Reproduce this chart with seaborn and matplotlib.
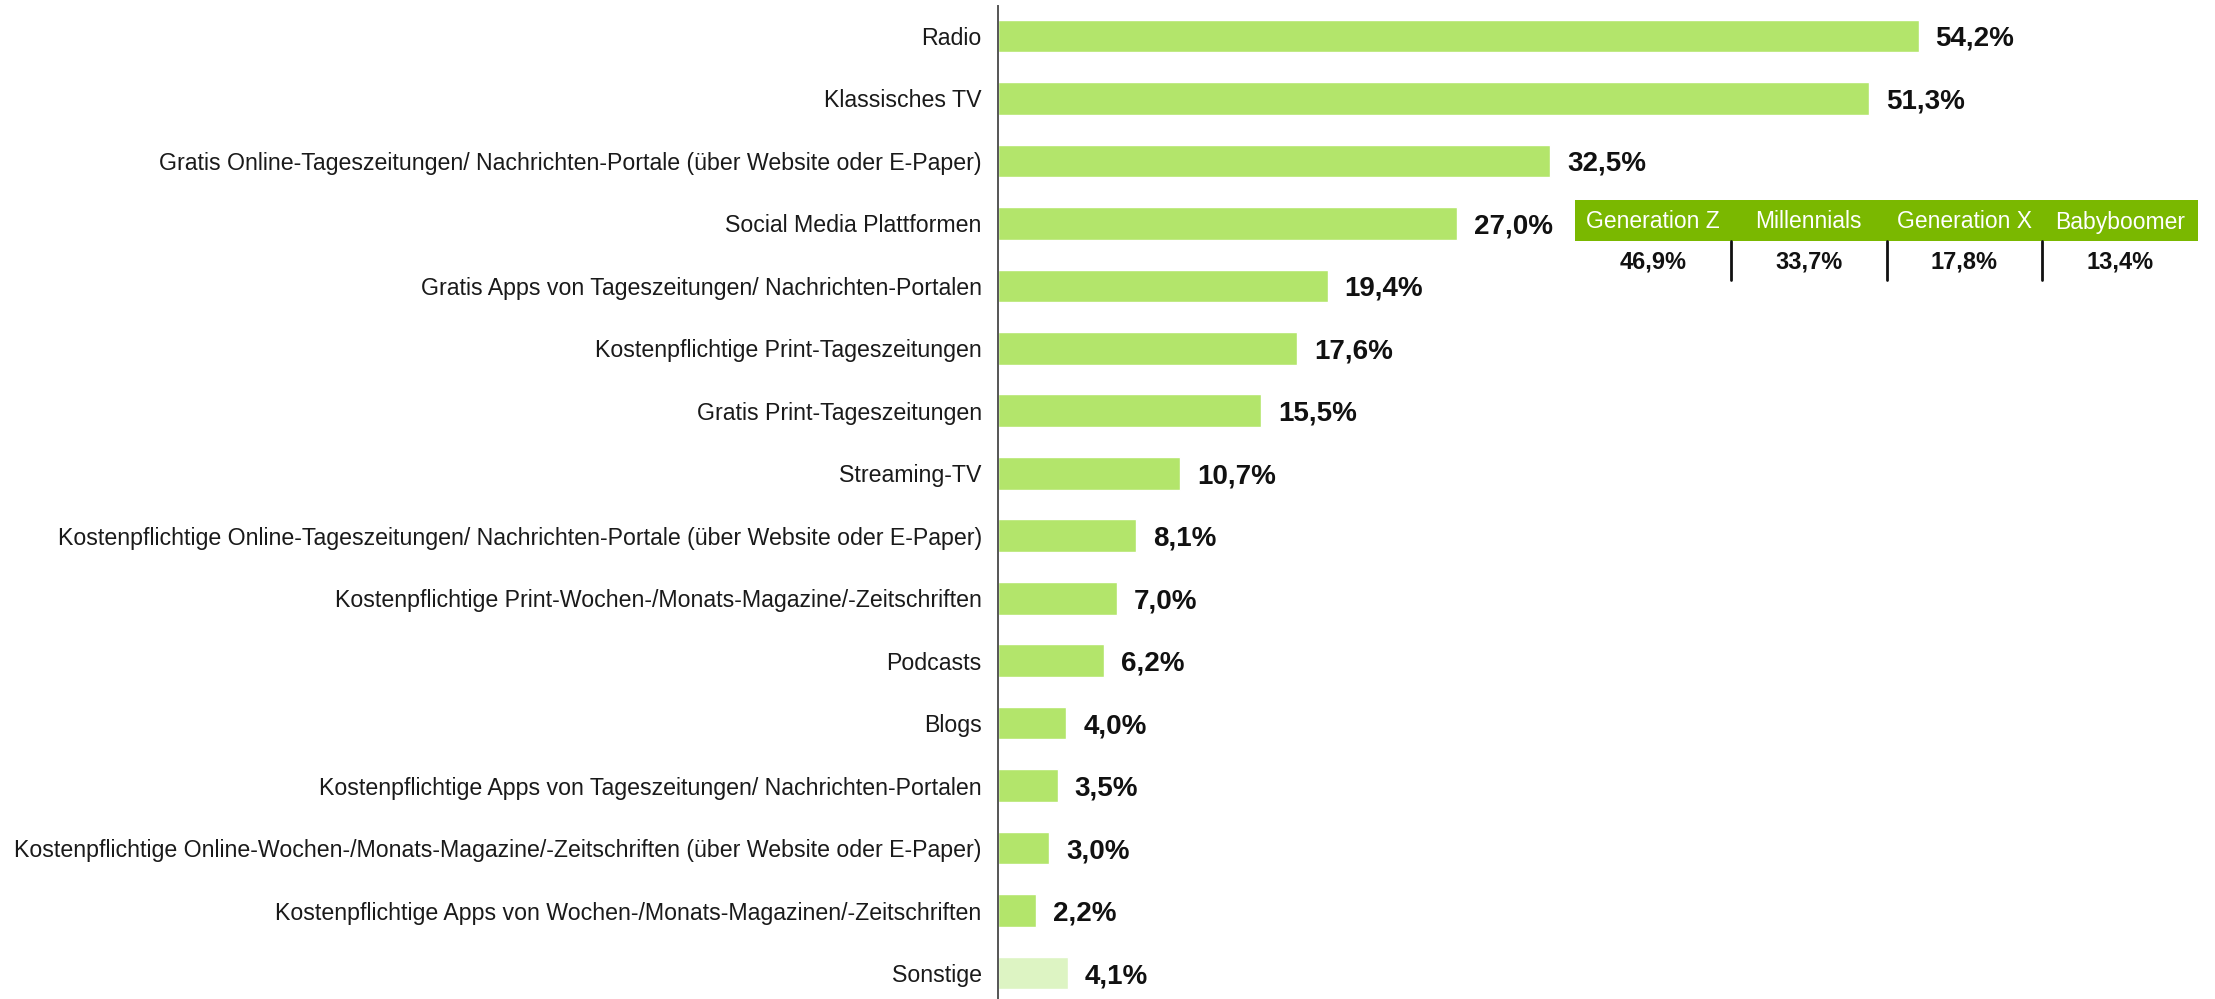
import matplotlib
matplotlib.use("Agg")
import matplotlib.pyplot as plt
import seaborn as sns
import pandas as pd
from matplotlib.patches import Rectangle
from matplotlib.lines import Line2D

categories = [
    "Radio",
    "Klassisches TV",
    "Gratis Online-Tageszeitungen/ Nachrichten-Portale (über Website oder E-Paper)",
    "Social Media Plattformen",
    "Gratis Apps von Tageszeitungen/ Nachrichten-Portalen",
    "Kostenpflichtige Print-Tageszeitungen",
    "Gratis Print-Tageszeitungen",
    "Streaming-TV",
    "Kostenpflichtige Online-Tageszeitungen/ Nachrichten-Portale (über Website oder E-Paper)",
    "Kostenpflichtige Print-Wochen-/Monats-Magazine/-Zeitschriften",
    "Podcasts",
    "Blogs",
    "Kostenpflichtige Apps von Tageszeitungen/ Nachrichten-Portalen",
    "Kostenpflichtige Online-Wochen-/Monats-Magazine/-Zeitschriften (über Website oder E-Paper)",
    "Kostenpflichtige Apps von Wochen-/Monats-Magazinen/-Zeitschriften",
    "Sonstige",
]
values = [54.2, 51.3, 32.5, 27.0, 19.4, 17.6, 15.5, 10.7, 8.1, 7.0, 6.2, 4.0, 3.5, 3.0, 2.2, 4.1]

gen_labels = ["Generation Z", "Millennials", "Generation X", "Babyboomer"]
gen_values = [46.9, 33.7, 17.8, 13.4]

BAR = "#B3E56B"
BAR_LIGHT = "#DDF4C3"
HEADER = "#7AB800"
colors = [BAR] * (len(categories) - 1) + [BAR_LIGHT]

sns.set_theme(style="white")
plt.rcParams["font.family"] = ["Liberation Sans", "DejaVu Sans"]

W, H = 2215, 999
fig = plt.figure(figsize=(W / 100, H / 100), dpi=100)
ax_left = 998.3 / W
ax_top = 6 / H
ax = fig.add_axes([ax_left, 0, 1 - ax_left, 1 - ax_top])

df = pd.DataFrame({"cat": categories, "val": values})
sns.barplot(data=df, y="cat", x="val", hue="cat", palette=colors, legend=False,
            orient="h", width=0.523, ax=ax, saturation=1)

px_per_unit = 16.98
ax.set_xlim(0, (W - 998.3) / px_per_unit)
row = 62.47
ax.set_ylim(15 + (999 - 973) / row, -(36 - 6) / row)

for sp in ["top", "right", "bottom"]:
    ax.spines[sp].set_visible(False)
ax.spines["left"].set_color("#555555")
ax.spines["left"].set_linewidth(1.4)
ax.set_xticks([])
ax.set_xlabel("")
ax.set_ylabel("")
ax.tick_params(axis="y", length=0, pad=12, labelsize=16.7, labelcolor="#1a1a1a")

for i, v in enumerate(values):
    ax.annotate(f"{v:.1f}%".replace(".", ","), xy=(v, i), xytext=(17, -3),
                textcoords="offset pixels",
                va="center", ha="left", fontsize=20, fontweight="bold", color="#111111")

# Inset table
def fx(x):
    return x / W

def fy(y):
    return 1 - y / H

x0, x1 = 1575, 2198
y0, y1 = 200, 241
colw = (x1 - x0) / 4
fig.patches.append(Rectangle((fx(x0), fy(y1)), fx(x1) - fx(x0), fy(y0) - fy(y1),
                             transform=fig.transFigure, facecolor=HEADER, edgecolor="none"))
for k, (lab, val) in enumerate(zip(gen_labels, gen_values)):
    cx = x0 + colw * (k + 0.5)
    fig.text(fx(cx), fy(222), lab, ha="center", va="center", color="white", fontsize=16.5)
    fig.text(fx(cx), fy(262), f"{val:.1f}%".replace(".", ","), ha="center", va="center",
             color="#111111", fontsize=17, fontweight="bold")
    if k > 0:
        lx = x0 + colw * k
        fig.lines.append(Line2D([fx(lx), fx(lx)], [fy(241), fy(280)], transform=fig.transFigure,
                                color="#111111", linewidth=2))

fig.savefig("out.png", dpi=100)
